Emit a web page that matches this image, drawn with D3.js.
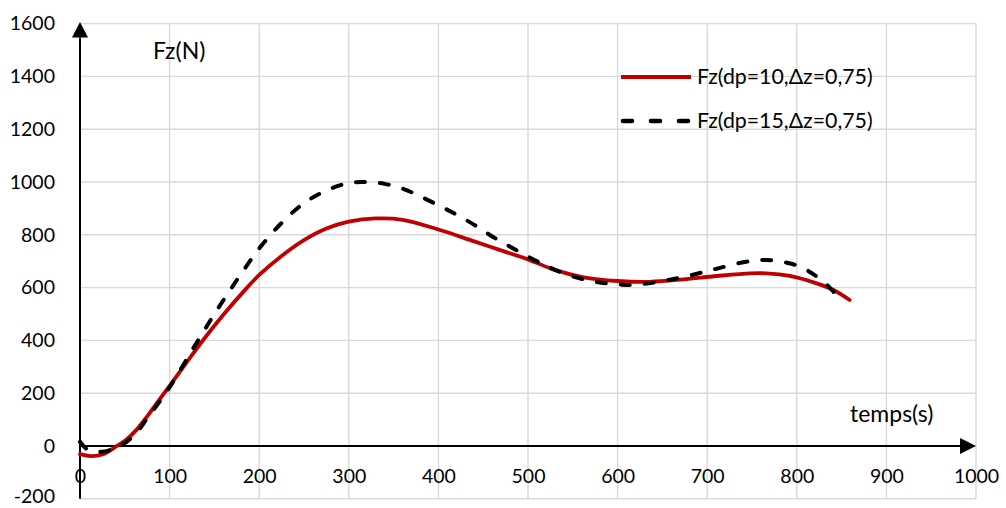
<!DOCTYPE html>
<html><head><meta charset="utf-8">
<script src="https://cdn.jsdelivr.net/npm/d3@7"></script>
<style>
body{margin:0;background:#fff}
svg{display:block}
text{font-family:Lato,"Open Sans",sans-serif;fill:#000}
</style>
</head><body>
<svg id="c" width="1006" height="508"></svg>
<script>
const xTicks = [0,100,200,300,400,500,600,700,800,900,1000];
const yTicks = [-200,0,200,400,600,800,1000,1200,1400,1600];
const seriesNames = ["Fz(dp=10,\u0394z=0,75)", "Fz(dp=15,\u0394z=0,75)"];
const xAxisTitle = "temps(s)";
const yAxisTitle = "Fz(N)";

const redX = [0,12,25,41,52,63,75,87,100,118,136,160,186,200,225,250,275,300,330,360,400,440,469,500,525,562,600,636,673,711,748,766,792,822,841,859];
const redY = [-31,-38,-32,0,25,61,112,168,228,312,395,497,598,648,720,780,824,850,862,857,820,775,742,707,673,639,625,622,631,644,654,654,644,616,591,553];

const dashX = [0,9,24,39,52,63,75,86,100,125,150,175,200,225,250,275,300,320,340,360,380,407,435,461,488,517,543,575,605,621,651,683,711,742,759,774,789,804,817,830,841,850];
const dashY = [16,-15,-22,-9,16,50,105,155,222,362,500,628,748,845,920,968,996,1000,993,975,945,900,848,792,740,688,650,622,611,611,625,648,672,697,704,703,694,679,654,622,584,540];

const svg = d3.select("#c");
const x = d3.scaleLinear().domain([0,1000]).range([80,976]);
const y = d3.scaleLinear().domain([-200,1600]).range([498.8,23.6]);

// grid
const grid = svg.append("g").attr("stroke","#d9d9d9").attr("stroke-width",1.4);
grid.selectAll(".h").data(yTicks).join("line")
  .attr("x1",x(0)).attr("x2",x(1000)).attr("y1",d=>y(d)).attr("y2",d=>y(d));
grid.selectAll(".v").data(xTicks.filter(d=>d>0)).join("line")
  .attr("x1",d=>x(d)).attr("x2",d=>x(d)).attr("y1",y(1600)).attr("y2",y(-200));

// tick labels via axes
const fmt = d => String(d);
const ax = svg.append("g").attr("transform",`translate(0,${y(0)})`)
  .call(d3.axisBottom(x).tickValues(xTicks).tickFormat(fmt).tickSize(0).tickPadding(23));
const ay = svg.append("g").attr("transform",`translate(${x(0)},0)`)
  .call(d3.axisLeft(y).tickValues(yTicks).tickFormat(fmt).tickSize(0).tickPadding(25));
[ax,ay].forEach(g=>{g.select(".domain").remove();
  g.selectAll("text").attr("font-family","Lato,'Open Sans',sans-serif").attr("font-size",19.5).attr("fill","#000");});
ay.selectAll("text").filter(d=>d===-200).attr("dy","0.18em");

// axis lines with arrows
svg.append("line").attr("x1",x(0)).attr("x2",x(0)).attr("y1",y(-200)).attr("y2",y(1600)+14)
  .attr("stroke","#000").attr("stroke-width",2);
svg.append("path").attr("d",`M${x(0)},${y(1600)-1.5} l-8,15.5 l16,0 Z`).attr("fill","#000");
svg.append("line").attr("x1",x(0)).attr("x2",x(1000)-14).attr("y1",y(0)).attr("y2",y(0))
  .attr("stroke","#000").attr("stroke-width",2);
svg.append("path").attr("d",`M${x(1000)},${y(0)} l-16,-8 l0,16 Z`).attr("fill","#000");

// series
const line = d3.line().x(d=>x(d[0])).y(d=>y(d[1])).curve(d3.curveCatmullRom.alpha(0.5));
svg.append("path").datum(redX.map((v,i)=>[v,redY[i]])).attr("d",line)
  .attr("fill","none").attr("stroke","#c00000").attr("stroke-width",3.8).attr("stroke-linecap","round");
svg.append("path").datum(dashX.map((v,i)=>[v,dashY[i]])).attr("d",line)
  .attr("fill","none").attr("stroke","#000").attr("stroke-width",4).attr("stroke-linecap","round")
  .attr("stroke-dasharray","9,15");

// titles
svg.append("text").attr("x",153).attr("y",59).attr("font-size",23).text(yAxisTitle);
svg.append("text").attr("x",850).attr("y",422).attr("font-size",23).text(xAxisTitle);

// legend
const lg = svg.append("g");
lg.append("line").attr("x1",621).attr("x2",691).attr("y1",77).attr("y2",77)
  .attr("stroke","#c00000").attr("stroke-width",4.2);
lg.append("line").attr("x1",623).attr("x2",690).attr("y1",121).attr("y2",121)
  .attr("stroke","#000").attr("stroke-width",4.6).attr("stroke-linecap","round").attr("stroke-dasharray","9,19");
lg.append("text").attr("x",697).attr("y",77).attr("dy","0.35em").attr("font-size",21.3).text(seriesNames[0]);
lg.append("text").attr("x",697).attr("y",121).attr("dy","0.35em").attr("font-size",21.3).text(seriesNames[1]);
</script>
</body></html>
